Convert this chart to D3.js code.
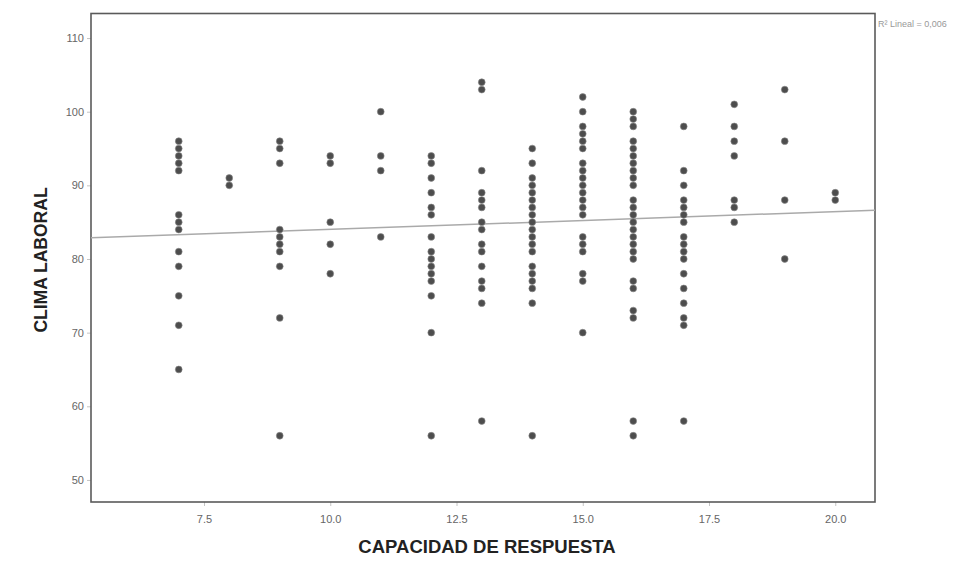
<!DOCTYPE html>
<html>
<head>
<meta charset="utf-8">
<script src="https://cdn.jsdelivr.net/npm/d3@7"></script>
<style>
  html, body { margin: 0; padding: 0; background: #fff; }
  svg { display: block; font-family: "Liberation Sans", Arial, sans-serif; }
</style>
</head>
<body>
<svg id="chart" width="972" height="567"></svg>
<script>
// Capacidad de respuesta (x) and the clima laboral scores observed at each value
const capacidad = [7, 8, 9, 10, 11, 12, 13, 14, 15, 16, 17, 18, 19, 20];
const clima = [
  [96, 95, 94, 93, 92, 86, 85, 84, 81, 79, 75, 71, 65],
  [91, 90],
  [96, 95, 93, 84, 83, 82, 81, 79, 72, 56],
  [94, 93, 85, 82, 78],
  [100, 94, 92, 83],
  [94, 93, 91, 89, 87, 86, 83, 81, 80, 79, 78, 77, 75, 70, 56],
  [104, 103, 92, 89, 88, 87, 85, 84, 82, 81, 79, 77, 76, 74, 58],
  [95, 93, 91, 90, 89, 88, 87, 86, 85, 84, 83, 82, 81, 79, 78, 77, 76, 74, 56],
  [102, 100, 98, 97, 96, 95, 93, 92, 91, 90, 89, 88, 87, 86, 83, 82, 81, 78, 77, 70],
  [100, 99, 98, 96, 95, 94, 93, 92, 91, 90, 88, 87, 86, 85, 84, 83, 82, 81, 80, 77, 76, 73, 72, 58, 56],
  [98, 92, 90, 88, 87, 86, 85, 83, 82, 81, 80, 78, 76, 74, 72, 71, 58],
  [101, 98, 96, 94, 88, 87, 85],
  [103, 96, 88, 80],
  [89, 88]
];
const xTicks = [7.5, 10.0, 12.5, 15.0, 17.5, 20.0];
const yTicks = [50, 60, 70, 80, 90, 100, 110];
const xTitle = "CAPACIDAD DE RESPUESTA";
const yTitle = "CLIMA LABORAL";

const points = [];
capacidad.forEach((c, i) => clima[i].forEach(v => points.push({ x: c, y: v })));

const plot = { left: 91, right: 875, top: 13.5, bottom: 502 };

const x = d3.scaleLinear()
  .domain([7.5 - (204 - plot.left) / 50.5, 7.5 + (plot.right - 204) / 50.5])
  .range([plot.left, plot.right]);
const y = d3.scaleLinear()
  .domain([50 - (plot.bottom - 480) / 7.346, 110 + (38 - plot.top) / 7.346])
  .range([plot.bottom, plot.top]);

const svg = d3.select("#chart");

// Least-squares fit line over the full x range
const mx = d3.mean(points, d => d.x), my = d3.mean(points, d => d.y);
const sxy = d3.sum(points, d => (d.x - mx) * (d.y - my));
const sxx = d3.sum(points, d => (d.x - mx) ** 2);
const syy = d3.sum(points, d => (d.y - my) ** 2);
const slope = sxy / sxx, intercept = my - slope * mx;
const r2 = (sxy * sxy) / (sxx * syy);

// Axes
const xAxis = svg.append("g")
  .attr("transform", `translate(0,${plot.bottom})`)
  .call(d3.axisBottom(x).tickValues(xTicks).tickFormat(d3.format(".1f")).tickSize(4).tickPadding(9));
const yAxis = svg.append("g")
  .attr("transform", `translate(${plot.left},0)`)
  .call(d3.axisLeft(y).tickValues(yTicks).tickFormat(d3.format("d")).tickSize(4).tickPadding(3));
[xAxis, yAxis].forEach(g => {
  g.select(".domain").remove();
  g.selectAll(".tick line").attr("stroke", "#c4c4c4");
  g.selectAll(".tick text").attr("fill", "#666").style("font-size", "11px")
    .style("font-family", "'Liberation Sans', Arial, sans-serif");
});

// Plot frame
svg.append("rect")
  .attr("x", plot.left).attr("y", plot.top)
  .attr("width", plot.right - plot.left).attr("height", plot.bottom - plot.top)
  .attr("fill", "none").attr("stroke", "#5a5a5a").attr("stroke-width", 1.6);

// Fit line
const xd = x.domain();
svg.append("line")
  .attr("x1", x(xd[0])).attr("y1", y(intercept + slope * xd[0]))
  .attr("x2", x(xd[1])).attr("y2", y(intercept + slope * xd[1]))
  .attr("stroke", "#aaa").attr("stroke-width", 1.5);

// Observations
svg.append("g").selectAll("circle")
  .data(points)
  .join("circle")
  .attr("cx", d => x(d.x))
  .attr("cy", d => y(d.y))
  .attr("r", 3.4)
  .attr("fill", "#4d4d4d")
  .attr("stroke", "#888")
  .attr("stroke-width", 0.6);

// Fit legend
svg.append("text")
  .attr("x", plot.right + 3).attr("y", 27)
  .attr("fill", "#999").style("font-size", "9px")
  .text(`R² Lineal = ${r2.toFixed(3).replace(".", ",")}`);

// Axis titles
svg.append("text")
  .attr("x", 487)
  .attr("y", 553)
  .attr("text-anchor", "middle")
  .attr("fill", "#222")
  .style("font-size", "18.5px").style("font-weight", "bold")
  .text(xTitle);
svg.append("text")
  .attr("transform", `translate(47,260) rotate(-90)`)
  .attr("text-anchor", "middle")
  .attr("fill", "#222")
  .style("font-size", "17.5px").style("font-weight", "bold")
  .text(yTitle);
</script>
</body>
</html>
